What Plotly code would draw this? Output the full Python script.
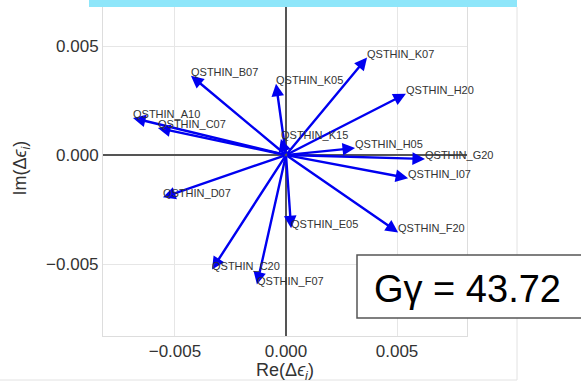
import plotly.graph_objects as go

names = ["QSTHIN_B07", "QSTHIN_K05", "QSTHIN_K07", "QSTHIN_H20", "QSTHIN_A10",
         "QSTHIN_C07", "QSTHIN_K15", "QSTHIN_H05", "QSTHIN_G20", "QSTHIN_I07",
         "QSTHIN_D07", "QSTHIN_E05", "QSTHIN_F20", "QSTHIN_C20", "QSTHIN_F07"]
re_vals = [-0.00428, -0.00045, 0.00365, 0.00540, -0.00689,
           -0.00577, -0.00023, 0.00311, 0.00626, 0.00550,
           -0.00554, 0.00023, 0.00505, -0.00333, -0.00131]
im_vals = [0.00364, 0.00327, 0.00447, 0.00281, 0.00170,
           0.00124, 0.00074, 0.00032, -0.00018, -0.00106,
           -0.00194, -0.00336, -0.00355, -0.00525, -0.00594]
tick_vals = [-0.005, 0.0, 0.005]
tick_text = ["\u22120.005", "0.000", "0.005"]
g_gamma = 43.72

FONT = "Liberation Sans, Arial, sans-serif"
W, H = 581, 383
ML, MR, MT, MB = 103, 114, 0, 47
PW, PH = W - ML - MR, H - MT - MB

def px(x):
    return (x - ML) / PW

def py(y):
    return (H - MB - y) / PH

fig = go.Figure()
fig.add_trace(go.Scatter(x=[0], y=[0], mode="markers", marker=dict(size=1, color="rgba(0,0,0,0)"),
                         hoverinfo="skip", showlegend=False))

annotations = []
for n, xv, yv in zip(names, re_vals, im_vals):
    annotations.append(dict(x=xv, y=yv, ax=0, ay=0, xref="x", yref="y", axref="x", ayref="y",
                            text="", showarrow=True, arrowhead=2, arrowsize=1.05, arrowwidth=2.4,
                            arrowcolor="#0000f0", standoff=0, startstandoff=0))
for n, xv, yv in zip(names, re_vals, im_vals):
    annotations.append(dict(x=xv, y=yv, xref="x", yref="y", text=n, showarrow=False,
                            xanchor="left", yanchor="middle", yshift=4, xshift=-2,
                            font=dict(family=FONT, size=11, color="#333333")))

annotations.append(dict(x=px(467), y=py(289), xref="paper", yref="paper",
                        text=f"G\u03b3 = {g_gamma:.2f}", showarrow=False,
                        xanchor="center", yanchor="middle",
                        font=dict(family=FONT, size=38, color="#000000")))

shapes = [
    dict(type="rect", xref="paper", yref="paper", x0=px(89), x1=px(517), y0=py(7), y1=py(-2),
         fillcolor="#8ee6fa", line=dict(width=0), layer="above"),
    dict(type="line", xref="paper", yref="paper", x0=px(517), x1=px(517), y0=py(7), y1=py(380),
         line=dict(color="#e2e2e2", width=1)),
    dict(type="line", xref="paper", yref="paper", x0=px(-2), x1=px(517), y0=py(380), y1=py(380),
         line=dict(color="#e2e2e2", width=1)),
    dict(type="rect", xref="paper", yref="paper", x0=px(357), x1=px(590), y0=py(318), y1=py(255),
         fillcolor="white", line=dict(color="#555555", width=1.5), layer="above"),
]

fig.update_layout(
    width=W, height=H,
    margin=dict(l=ML, r=MR, t=MT, b=MB, autoexpand=False),
    paper_bgcolor="white", plot_bgcolor="white",
    showlegend=False,
    annotations=annotations,
    shapes=shapes,
    xaxis=dict(range=[-0.00824, 0.00815], tickvals=tick_vals, ticktext=tick_text,
               showgrid=True, gridcolor="#e6e6e6", gridwidth=1,
               zeroline=True, zerolinecolor="#555555", zerolinewidth=1.5,
               showline=True, linecolor="#dddddd", linewidth=1, mirror=True,
               ticks="", tickfont=dict(family=FONT, size=17, color="#333333"),
               title=dict(text="Re(\u0394<i>\u03f5<sub>i</sub></i>)", standoff=5,
                          font=dict(family=FONT, size=18, color="#333333"))),
    yaxis=dict(range=[-0.0083, 0.00711], tickvals=tick_vals, ticktext=tick_text,
               showgrid=True, gridcolor="#e6e6e6", gridwidth=1,
               zeroline=True, zerolinecolor="#555555", zerolinewidth=1.5,
               showline=True, linecolor="#dddddd", linewidth=1, mirror=True,
               ticks="", tickfont=dict(family=FONT, size=17, color="#333333"),
               title=dict(text="Im(\u0394<i>\u03f5<sub>i</sub></i>)", standoff=14,
                          font=dict(family=FONT, size=18, color="#333333"))),
)

fig.write_html("out.html")
